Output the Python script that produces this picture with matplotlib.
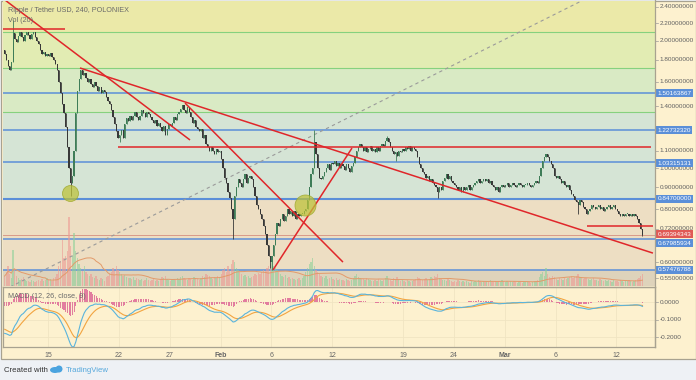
import matplotlib
matplotlib.use('Agg')
import matplotlib.pyplot as plt
import numpy as np
from matplotlib.patches import Rectangle, Ellipse
from matplotlib.transforms import blended_transform_factory

plt.rcParams['font.family'] = ['Liberation Sans', 'DejaVu Sans']

# ---------------- DATA ----------------
day_labels = ['Jan10'] + [f'Jan{d}' for d in range(11, 32)] + [f'Feb{d}' for d in range(1, 29)] + [f'Mar{d}' for d in range(1, 15)]
first_open = 1.90
closes_rows = [
    [1.86, 1.80],                                  # Jan10 (16:00, 20:00)
    [1.74, 1.70, 1.78, 2.08, 2.02, 1.98],          # Jan11
    [2.05, 2.10, 2.04, 2.00, 2.06, 2.09],
    [2.06, 2.02, 2.07, 2.10, 2.04, 2.00],
    [1.96, 1.90, 1.86, 1.88, 1.84, 1.86],
    [1.84, 1.87, 1.83, 1.80, 1.76, 1.70],          # Jan15
    [1.60, 1.50, 1.42, 1.35, 1.25, 1.12],
    [1.00, 0.92, 0.96, 1.10, 1.35, 1.52],
    [1.62, 1.70, 1.66, 1.68, 1.63, 1.60],
    [1.62, 1.58, 1.55, 1.60, 1.56, 1.52],
    [1.55, 1.50, 1.53, 1.51, 1.47, 1.44],          # Jan20
    [1.42, 1.37, 1.32, 1.27, 1.22, 1.18],
    [1.20, 1.23, 1.18, 1.27, 1.31, 1.29],
    [1.33, 1.30, 1.33, 1.36, 1.32, 1.30],
    [1.33, 1.37, 1.35, 1.32, 1.36, 1.34],
    [1.32, 1.30, 1.28, 1.30, 1.26, 1.28],          # Jan25
    [1.25, 1.22, 1.26, 1.20, 1.24, 1.27],
    [1.26, 1.28, 1.32, 1.30, 1.34, 1.36],
    [1.38, 1.41, 1.37, 1.35, 1.39, 1.36],
    [1.32, 1.28, 1.30, 1.25, 1.24, 1.22],
    [1.24, 1.18, 1.20, 1.14, 1.12, 1.10],          # Jan30
    [1.12, 1.10, 1.08, 1.11, 1.09, 1.10],
    [1.05, 1.00, 0.95, 0.92, 0.88, 0.85],          # Feb1
    [0.80, 0.76, 0.86, 0.90, 0.94, 0.92],
    [0.90, 0.94, 0.97, 0.92, 0.95, 0.96],
    [0.94, 0.90, 0.86, 0.82, 0.80, 0.78],
    [0.76, 0.73, 0.70, 0.66, 0.62, 0.60],          # Feb5
    [0.62, 0.66, 0.70, 0.74, 0.73, 0.76],
    [0.78, 0.75, 0.77, 0.80, 0.78, 0.79],
    [0.77, 0.79, 0.76, 0.78, 0.77, 0.78],
    [0.78, 0.79, 0.80, 0.84, 0.90, 0.97],
    [1.00, 1.15, 1.08, 1.00, 0.95, 0.94],          # Feb10
    [0.96, 0.98, 1.00, 1.02, 0.99, 1.03],
    [1.02, 1.04, 1.01, 1.03, 1.00, 1.02],
    [1.01, 0.99, 1.02, 1.00, 0.98, 1.01],
    [1.03, 1.06, 1.10, 1.12, 1.14, 1.12],
    [1.10, 1.12, 1.09, 1.11, 1.13, 1.10],          # Feb15
    [1.11, 1.09, 1.12, 1.10, 1.13, 1.14],
    [1.13, 1.16, 1.18, 1.15, 1.12, 1.10],
    [1.08, 1.09, 1.07, 1.10, 1.09, 1.11],
    [1.10, 1.12, 1.11, 1.13, 1.10, 1.12],
    [1.11, 1.10, 1.06, 1.02, 1.00, 0.98],          # Feb20
    [0.97, 0.95, 0.96, 0.93, 0.94, 0.92],
    [0.91, 0.90, 0.88, 0.90, 0.89, 0.93],
    [0.95, 0.97, 0.94, 0.96, 0.93, 0.92],
    [0.91, 0.90, 0.89, 0.90, 0.88, 0.90],
    [0.89, 0.90, 0.91, 0.89, 0.90, 0.91],          # Feb25
    [0.92, 0.93, 0.94, 0.92, 0.93, 0.94],
    [0.93, 0.94, 0.92, 0.93, 0.91, 0.90],
    [0.89, 0.90, 0.88, 0.90, 0.91, 0.90],
    [0.91, 0.92, 0.90, 0.91, 0.92, 0.91],          # Mar1
    [0.90, 0.91, 0.92, 0.91, 0.90, 0.91],
    [0.91, 0.92, 0.91, 0.90, 0.91, 0.92],
    [0.93, 0.92, 0.96, 1.00, 1.04, 1.06],
    [1.08, 1.06, 1.04, 1.02, 1.00, 0.96],          # Mar5
    [0.95, 0.96, 0.94, 0.92, 0.93, 0.91],
    [0.90, 0.91, 0.89, 0.87, 0.86, 0.84],
    [0.83, 0.82, 0.84, 0.83, 0.81, 0.80],
    [0.78, 0.79, 0.80, 0.82, 0.81, 0.80],
    [0.81, 0.82, 0.80, 0.81, 0.79, 0.80],          # Mar10
    [0.81, 0.82, 0.80, 0.81, 0.82, 0.80],
    [0.79, 0.78, 0.77, 0.78, 0.77, 0.78],
    [0.78, 0.77, 0.78, 0.77, 0.78, 0.77],
    [0.76, 0.74, 0.72, 0.694],                     # Mar14
]
volume_rows = [
    [10, 14],
    [20, 12, 8, 36, 18, 10],
    [8, 6, 7, 9, 6, 5],
    [5, 4, 6, 5, 4, 5],
    [6, 5, 7, 5, 6, 8],
    [6, 7, 5, 8, 9, 12],
    [20, 25, 46, 28, 30, 35],
    [69, 40, 30, 53, 35, 28],
    [22, 18, 15, 20, 14, 12],
    [10, 12, 9, 8, 10, 7],
    [6, 8, 7, 5, 9, 10],
    [12, 14, 18, 15, 20, 16],
    [14, 12, 10, 11, 9, 8],
    [8, 7, 9, 6, 8, 7],
    [6, 7, 5, 6, 8, 6],
    [5, 6, 7, 5, 6, 5],
    [7, 9, 8, 10, 7, 6],
    [5, 6, 7, 6, 8, 7],
    [9, 10, 8, 7, 6, 8],
    [7, 6, 9, 8, 7, 6],
    [8, 10, 9, 12, 11, 10],
    [8, 7, 9, 8, 10, 9],
    [12, 16, 18, 14, 20, 15],
    [22, 26, 24, 18, 16, 14],
    [12, 10, 11, 9, 10, 8],
    [9, 10, 12, 11, 13, 12],
    [14, 16, 15, 18, 20, 22],
    [26, 20, 18, 16, 14, 12],
    [10, 9, 11, 8, 9, 7],
    [8, 7, 6, 7, 8, 6],
    [8, 10, 14, 18, 22, 24],
    [28, 20, 16, 14, 12, 10],
    [9, 8, 10, 7, 8, 9],
    [7, 6, 8, 6, 7, 6],
    [6, 5, 7, 6, 5, 6],
    [8, 10, 12, 9, 8, 7],
    [7, 6, 8, 7, 6, 5],
    [5, 6, 5, 7, 6, 5],
    [6, 8, 10, 7, 6, 5],
    [8, 7, 9, 6, 5, 6],
    [5, 4, 6, 5, 4, 5],
    [6, 7, 9, 8, 7, 6],
    [7, 8, 6, 7, 9, 8],
    [10, 9, 12, 8, 7, 6],
    [6, 5, 7, 6, 5, 4],
    [5, 4, 6, 5, 4, 5],
    [4, 5, 4, 3, 5, 4],
    [5, 4, 6, 5, 4, 5],
    [4, 5, 4, 6, 5, 4],
    [5, 4, 5, 4, 6, 5],
    [4, 5, 4, 5, 4, 5],
    [4, 3, 5, 4, 3, 4],
    [4, 5, 4, 3, 4, 5],
    [5, 6, 9, 12, 14, 10],
    [18, 12, 9, 8, 10, 9],
    [7, 6, 8, 7, 6, 8],
    [7, 8, 9, 10, 8, 9],
    [10, 12, 9, 8, 7, 8],
    [8, 7, 6, 7, 8, 6],
    [6, 5, 7, 6, 5, 6],
    [5, 6, 5, 4, 6, 5],
    [5, 4, 6, 5, 4, 5],
    [5, 6, 5, 4, 5, 6],
    [7, 8, 10, 12],
]
# notable wicks: (day, 4h slot, high, low)
wicks = [
    ('Jan11', 3, 2.24, None), ('Jan17', 1, None, 0.86), ('Jan22', 0, None, 1.15),
    ('Feb2', 1, None, 0.68), ('Feb5', 5, None, 0.58), ('Feb6', 0, None, 0.575),
    ('Feb10', 1, 1.23, None), ('Feb17', 2, 1.19, None), ('Feb18', 1, None, 1.04),
    ('Feb22', 2, None, 0.85), ('Mar8', 1, None, 0.78), ('Mar14', 3, None, 0.69),
]
fib_blue = [1.50163867, 1.22732320, 1.03315131, 0.84700000, 0.67985934, 0.57476788]
fib_green = [2.095, 1.72, 1.36]
last_price = 0.69394343
axis_prices = [2.4, 2.2, 2.0, 1.8, 1.6, 1.4, 1.1, 1.0, 0.9, 0.8, 0.72, 0.6, 0.55]
# trend lines: ((day, price), (day, price))
red_lines = [
    ((10.6, 2.124), (16.7, 2.124)),
    ((10.76, 2.493), (28.99, 1.165)),
    ((18.15, 1.723), (74.6, 0.630)),
    ((28.5, 1.424), (44.06, 0.600)),
    ((37.17, 0.575), (44.95, 1.115)),
    ((21.9, 1.1216), (74.4, 1.1216)),
    ((68.1, 0.730), (74.6, 0.730)),
]
dashed_line = ((11.26, 0.524), (67.7, 2.49))
circles = [(17.17, 0.873, 16), (40.32, 0.818, 21)]  # day, price, diameter px
date_ticks = [15, 22, 27, 32, 37, 43, 50, 55, 60, 65, 71]
date_labels = ['15', '22', '27', 'Feb', '6', '12', '19', '24', 'Mar', '6', '12']
macd_ticks = [0.0, -0.1, -0.2]
macd_seed = (2.02, 2.20, -0.15)  # ema12, ema26, signal state at chart start

# ---------------- PREP ----------------
closes = np.array([c for row in closes_rows for c in row])
volumes = np.array([v for row in volume_rows for v in row], dtype=float)
n = len(closes)
t = 10 + 16 / 24 + np.arange(n) / 6.0
opens = np.concatenate([[first_open], closes[:-1]])
highs = np.maximum(opens, closes)
lows = np.minimum(opens, closes)

def idx(label, slot):
    r = day_labels.index(label)
    return slot if r == 0 else 2 + (r - 1) * 6 + slot

for lab, s, hi, lo in wicks:
    i = idx(lab, s)
    if hi is not None:
        highs[i] = max(highs[i], hi)
    if lo is not None:
        lows[i] = min(lows[i], lo)

def ema(vals, span, seed):
    a = 2.0 / (span + 1)
    out = np.empty(len(vals))
    e = seed
    for k, v in enumerate(vals):
        e = e + a * (v - e)
        out[k] = e
    return out

macd = ema(closes, 12, macd_seed[0]) - ema(closes, 26, macd_seed[1])
signal = ema(macd, 9, macd_seed[2])
hist = macd - signal
vol_ma = np.array([volumes[max(0, k - 19):k + 1].mean() for k in range(n)])

# ---------------- LAYOUT ----------------
W, H = 696, 380
fig = plt.figure(figsize=(W / 100, H / 100), dpi=100)
fig.patch.set_facecolor('#eef1f5')

def fx(px): return px / W
def fy(py): return 1 - py / H

bgpanel = Rectangle((fx(0.5), fy(359)), fx(695), 358.5 / H, transform=fig.transFigure,
                    facecolor='#fdf1cf', edgecolor='#a8a290', lw=0.9, zorder=-5)
fig.patches.append(bgpanel)

PX_PER_LN = 184.0
P_TOP = 2.4 * np.exp((7 - 1) / PX_PER_LN)
P_BOT = 2.4 * np.exp(-(286 - 7) / PX_PER_LN)
X0 = 15 + (3 - 48) / 10.15
X1 = 15 + (655 - 48) / 10.15

def shift_px(p, dy):
    """price of a point dy pixels below price p (label placement only)"""
    return p * np.exp(-dy / PX_PER_LN)

rect_main = [fx(3), fy(286), fx(652), 285 / H]
ax_bg = fig.add_axes(rect_main, zorder=1)
ax_vol = fig.add_axes(rect_main, zorder=2)
ax_c = fig.add_axes(rect_main, zorder=3)
for a in (ax_bg, ax_c):
    a.set_yscale('log')
    a.set_ylim(P_BOT, P_TOP)
for a in (ax_bg, ax_vol, ax_c):
    a.set_xlim(X0, X1)
    a.set_xticks([]); a.set_yticks([])
    a.yaxis.set_minor_locator(matplotlib.ticker.NullLocator())
    for sp in a.spines.values():
        sp.set_visible(False)
ax_vol.patch.set_alpha(0)
ax_c.patch.set_alpha(0)

# background bands
bands = [(fib_green[0], P_TOP, '#ebe9a8'), (fib_green[1], fib_green[0], '#e2ecb3'),
         (fib_green[2], fib_green[1], '#d9eac4'), (fib_blue[3], fib_green[2], '#d5e4d5'),
         (fib_blue[5], fib_blue[3], '#eddec3'), (P_BOT, fib_blue[5], '#ded3bb')]
for lo_, hi_, col in bands:
    ax_bg.axhspan(lo_, hi_, color=col, lw=0, zorder=0)
for p in fib_green:
    ax_bg.axhline(p, color='#86d17e', lw=0.8, zorder=1)
for p in fib_blue:
    ax_bg.axhline(p, color='#5b8fd8', lw=1.5 if p == 0.847 else 1.1, zorder=1)
ax_bg.axhline(last_price, color='#d89a8a', lw=0.7, zorder=1)

# volume
ax_vol.set_ylim(0, 285)
up = closes >= opens
ax_vol.bar(t[up], volumes[up], width=0.13, color='#8fd19a', alpha=0.6, align='edge', lw=0)
ax_vol.bar(t[~up], volumes[~up], width=0.13, color='#ee9a94', alpha=0.6, align='edge', lw=0)
ax_vol.plot(t + 0.06, vol_ma, color='#e39a6a', lw=0.7)

# dashed line
(dx0, dp0), (dx1, dp1) = dashed_line
ax_c.plot([dx0, dx1], [dp0, dp1], color='#9a9a9a', lw=0.8, ls=(0, (3, 3)), zorder=2)

# candles
cw = 0.12
up_col, dn_col = '#3f7d58', '#383838'
cols = np.where(up, up_col, dn_col)
ax_c.vlines(t + 0.07, lows, highs, colors=cols, lw=0.6, zorder=3)
bottoms = np.minimum(opens, closes)
heights = np.maximum(np.abs(closes - opens), bottoms * 0.006)
ax_c.bar(t + 0.01, heights, bottom=bottoms, width=cw, color=cols, align='edge', lw=0, zorder=4)

# red trend lines
for (x0_, p0_), (x1_, p1_) in red_lines:
    ax_c.plot([x0_, x1_], [p0_, p1_], color='#e0262a', lw=1.1, zorder=5, solid_capstyle='butt')

# circles
for cx, cp, dpx in circles:
    ax_c.scatter([cx], [cp], s=(dpx * 0.72) ** 2, facecolor=(0.74, 0.76, 0.22, 0.72),
                 edgecolor=(0.62, 0.66, 0.18, 0.8), lw=0.6, zorder=6)

ax_c.set_xlim(X0, X1)
ax_c.set_ylim(P_BOT, P_TOP)

# pane titles
ax_c.text(fx(8), fy(10), 'Ripple / Tether USD, 240, POLONIEX', transform=fig.transFigure,
          fontsize=5.2, color='#6a6a6a', va='center', ha='left', zorder=7)
ax_c.text(fx(8), fy(20), 'Vol (20)', transform=fig.transFigure,
          fontsize=5.2, color='#6a6a6a', va='center', ha='left', zorder=7)

# price axis
LFS = 4.6
tr = blended_transform_factory(fig.transFigure, ax_bg.transData)
for p in axis_prices:
    ax_bg.text(fx(659.5), p, f'{p:.8f}', transform=tr, fontsize=LFS, color='#606060',
               va='center', ha='left', clip_on=False, zorder=2)
    ax_bg.plot([fx(655), fx(658)], [p, p], transform=tr, color='#9a9a9a', lw=0.5, clip_on=False)
label_shift = {0.67985934: 4.0, 1.03315131: 1.0}
for p in fib_blue:
    ax_bg.text(fx(657.5), shift_px(p, label_shift.get(p, 0.0)), f'{p:.8f}', transform=tr,
               fontsize=LFS, color='white', va='center', ha='left', clip_on=False, zorder=4,
               bbox=dict(boxstyle='square,pad=0.22', fc='#5b8fd8', ec='none'))
ax_bg.text(fx(657.5), shift_px(last_price, -1.0), f'{last_price:.8f}', transform=tr, fontsize=LFS,
           color='white', va='center', ha='left', clip_on=False, zorder=5,
           bbox=dict(boxstyle='square,pad=0.22', fc='#e05a55', ec='none'))

# MACD pane
ax_m = fig.add_axes([fx(3), fy(347), fx(652), 60 / H], zorder=1)
ax_m.set_facecolor('#fdf1cf')
ax_m.set_xlim(X0, X1)
ax_m.set_ylim(-0.257, 0.0857)
for d in date_ticks:
    ax_m.axvline(d, color='#f0e4c2', lw=0.6, zorder=0)
for v in macd_ticks:
    ax_m.axhline(v, color='#f0e4c2', lw=0.6, zorder=0)
ax_m.bar(t + 0.02, hist, width=0.11, color='#e0709a', align='edge', lw=0, alpha=0.9, zorder=1)
ax_m.plot(t + 0.07, signal, color='#f2a440', lw=0.8, zorder=2)
ax_m.plot(t + 0.07, macd, color='#5ab4dc', lw=0.8, zorder=3)
ax_m.set_yticks([])
ax_m.set_xticks(date_ticks)
ax_m.set_xticklabels(date_labels)
ax_m.tick_params(axis='x', length=0, pad=3.5, labelsize=5, labelcolor='#666666')
for lab in ax_m.get_xticklabels():
    if lab.get_text() in ('Feb', 'Mar'):
        lab.set_fontweight('bold')
for sp in ax_m.spines.values():
    sp.set_color('#a8a290'); sp.set_linewidth(0.9)
ax_m.text(fx(8), fy(296), 'MACD (12, 26, close, 9)', transform=fig.transFigure,
          fontsize=5.2, color='#6a6a6a', va='center', ha='left')
trm = blended_transform_factory(fig.transFigure, ax_m.transData)
for v in macd_ticks:
    ax_m.text(fx(659.5), v, f'{v:.4f}', transform=trm, fontsize=LFS, color='#606060',
              va='center', ha='left', clip_on=False)
    ax_m.plot([fx(655), fx(658)], [v, v], transform=trm, color='#9a9a9a', lw=0.5, clip_on=False)

# frame lines
fig.lines.append(plt.Line2D([fx(655), fx(655)], [fy(0), fy(347)], transform=fig.transFigure,
                            color='#a8a290', lw=0.9, zorder=10))
fig.lines.append(plt.Line2D([fx(3), fx(655)], [fy(286.5), fy(286.5)], transform=fig.transFigure,
                            color='#a8a290', lw=0.9, zorder=10))

# footer
fig.text(fx(4), fy(370), 'Created with', fontsize=5.6, color='#333333', va='center', ha='left')
fig.patches.append(Ellipse((fx(55), fy(370)), fx(10), 6 / H, transform=fig.transFigure,
                           facecolor='#4aa3df', edgecolor='none'))
fig.patches.append(Ellipse((fx(59), fy(369)), fx(7), 7 / H, transform=fig.transFigure,
                           facecolor='#4aa3df', edgecolor='none'))
fig.text(fx(66), fy(370), 'TradingView', fontsize=5.6, color='#55a8dc', va='center', ha='left')

fig.savefig('out.png', dpi=100, facecolor=fig.get_facecolor())
